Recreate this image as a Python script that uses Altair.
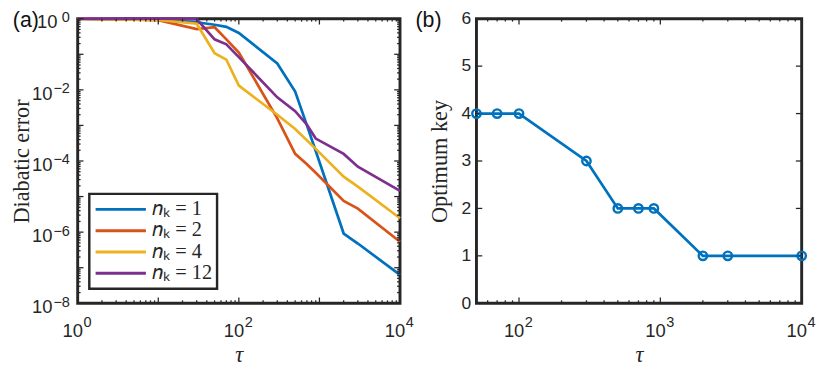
import altair as alt
import pandas as pd
import math

# ---------------- panel (a): diabatic error vs tau ----------------
tau_a = [1, 10, 30, 50, 70, 100, 300, 500, 700, 900, 2000, 3000, 10000]
log10_err_nk1 = [0.0, -0.02, -0.10, -0.17, -0.23, -0.40, -1.26, -2.05, -3.00, -3.72, -6.04, -6.32, -7.20]
log10_err_nk2 = [0.0, -0.04, -0.29, -0.24, -0.58, -0.95, -2.80, -3.80, -4.09, -4.33, -5.12, -5.34, -6.27]
log10_err_nk4 = [0.0, -0.03, -0.14, -0.97, -1.15, -1.88, -2.70, -3.10, -3.42, -3.66, -4.44, -4.72, -5.61]
log10_err_nk12 = [0.0, 0.0, -0.01, -0.58, -0.72, -1.08, -2.21, -2.60, -2.98, -3.37, -3.80, -4.16, -4.84]
series_labels = ["𝑛ₖ = 1", "𝑛ₖ = 2", "𝑛ₖ = 4", "𝑛ₖ = 12"]
series_colors = ["#0072BD", "#D95319", "#EDB120", "#7E2F8E"]

# ---------------- panel (b): optimum key vs tau ----------------
tau_b = [50, 70, 100, 300, 500, 700, 900, 2000, 3000, 10000]
optimum_key = [4, 4, 4, 3, 2, 2, 2, 1, 1, 1]

# tick labels (base 10 with exponent)
xa_label_vals = [1, 100, 10000]
xa_label_exp = ["0", "2", "4"]
ya_label_vals = [1e-8, 1e-6, 1e-4, 1e-2, 1]
ya_label_exp = ["−8", "−6", "−4", "−2", "0"]
xb_label_vals = [100, 1000, 10000]
xb_label_exp = ["2", "3", "4"]
yb_label_vals = [0, 1, 2, 3, 4, 5, 6]

INK = "#262626"
WA, HA = 333, 294
WB, HB = 336, 294
FONT = "Liberation Sans"
BASE_FS, EXP_FS = 19, 15

rows = []
for name, ys in zip(series_labels, [log10_err_nk1, log10_err_nk2, log10_err_nk4, log10_err_nk12]):
    for t, ly in zip(tau_a, ys):
        rows.append({"tau": t, "err": 10 ** ly, "series": name})
df_a = pd.DataFrame(rows)
df_b = pd.DataFrame({"tau": tau_b, "key": optimum_key})

scale_xa = alt.Scale(type="log", domain=[1, 10000], nice=False)
scale_ya = alt.Scale(type="log", domain=[1e-8, 1], nice=False)
scale_xb = alt.Scale(type="log", domain=[50, 10000], nice=False)
scale_yb = alt.Scale(domain=[0, 6], nice=False, zero=False)

axis_xa = alt.Axis(values=xa_label_vals, labels=False, title="τ", titleFontStyle="italic",
                   titleY=53, titleBaseline="middle")
axis_ya = alt.Axis(values=ya_label_vals, labels=False, title="Diabatic error",
                   titleX=-58, titleY=HA / 2, titleAngle=-90,
                   titleAlign="center", titleBaseline="middle")
axis_xb = alt.Axis(values=xb_label_vals, labels=False, title="τ", titleFontStyle="italic",
                   titleY=53, titleBaseline="middle")
axis_yb = alt.Axis(values=yb_label_vals, format="d", title="Optimum key", labelPadding=6,
                   titleX=-38, titleY=HB / 2, titleAngle=-90,
                   titleAlign="center", titleBaseline="middle")


def x_ticks(vals, field, scale, axis, length, H):
    d = pd.DataFrame({field: vals})
    bot = alt.Chart(d).mark_rule(color=INK, strokeWidth=1.3).encode(
        x=alt.X(f"{field}:Q", scale=scale, axis=axis), y=alt.value(H), y2=alt.value(H - length))
    top = alt.Chart(d).mark_rule(color=INK, strokeWidth=1.3).encode(
        x=alt.X(f"{field}:Q", scale=scale, axis=axis), y=alt.value(0), y2=alt.value(length))
    return [bot, top]


def y_ticks(vals, field, scale, axis, length, W):
    d = pd.DataFrame({field: vals})
    lft = alt.Chart(d).mark_rule(color=INK, strokeWidth=1.3).encode(
        y=alt.Y(f"{field}:Q", scale=scale, axis=axis), x=alt.value(0), x2=alt.value(length))
    rgt = alt.Chart(d).mark_rule(color=INK, strokeWidth=1.3).encode(
        y=alt.Y(f"{field}:Q", scale=scale, axis=axis), x=alt.value(W), x2=alt.value(W - length))
    return [lft, rgt]


def x_pow_labels(vals, exps, field, scale, axis, H):
    d = pd.DataFrame({field: vals, "base": ["10"] * len(vals), "exp": exps})
    base = alt.Chart(d).mark_text(align="right", baseline="middle", fontSize=BASE_FS, font=FONT,
                                  color=INK, dx=5.5).encode(
        x=alt.X(f"{field}:Q", scale=scale, axis=axis), y=alt.value(H + 28.5), text="base:N")
    exp = alt.Chart(d).mark_text(align="left", baseline="middle", fontSize=EXP_FS, font=FONT,
                                 color=INK, dx=6).encode(
        x=alt.X(f"{field}:Q", scale=scale, axis=axis), y=alt.value(H + 20), text="exp:N")
    return [base, exp]


def y_pow_labels(vals, exps, field, scale, axis):
    d = pd.DataFrame({field: vals, "base": ["10"] * len(vals), "exp": exps})
    neg = alt.datum.exp != "0"
    zero = alt.datum.exp == "0"
    out = []
    for flt, xb in [(neg, -26), (zero, -21)]:
        out.append(alt.Chart(d).transform_filter(flt).mark_text(
            align="right", baseline="middle", fontSize=BASE_FS, font=FONT, color=INK, dy=4).encode(
            y=alt.Y(f"{field}:Q", scale=scale, axis=axis), x=alt.value(xb), text="base:N"))
    out.append(alt.Chart(d).mark_text(
        align="right", baseline="middle", fontSize=EXP_FS, font=FONT, color=INK, dy=-1.5).encode(
        y=alt.Y(f"{field}:Q", scale=scale, axis=axis), x=alt.value(-8), text="exp:N"))
    return out


xa_major = [1, 10, 100, 1000, 10000]
xa_minor = [k * 10 ** d for d in range(0, 4) for k in range(2, 10)]
ya_major = [10.0 ** (-d) for d in range(0, 9)]
ya_minor = [k * 10.0 ** (-d) for d in range(1, 9) for k in range(2, 10)]
xb_major = [100, 1000, 10000]
xb_minor = [50, 60, 70, 80, 90] + [k * 100 for k in range(2, 10)] + [k * 1000 for k in range(2, 10)]

lines_a = alt.Chart(df_a).mark_line(strokeWidth=2.8).encode(
    x=alt.X("tau:Q", scale=scale_xa, axis=axis_xa),
    y=alt.Y("err:Q", scale=scale_ya, axis=axis_ya),
    color=alt.Color("series:N", sort=series_labels,
                    scale=alt.Scale(domain=series_labels, range=series_colors),
                    legend=alt.Legend(title=None, orient="none", legendX=12, legendY=181,
                                      direction="vertical", fillColor="white", strokeColor=INK,
                                      padding=5, symbolType="stroke", symbolSize=2700,
                                      symbolStrokeWidth=3, labelFont="Liberation Serif",
                                      labelFontSize=21, labelColor=INK, clipHeight=22,
                                      rowPadding=0, labelOffset=5, cornerRadius=0, labelLimit=300)),
)

label_a = alt.Chart(pd.DataFrame({"t": ["(a)"]})).mark_text(
    align="left", baseline="middle", fontSize=22, font=FONT, color="#111111"
).encode(text="t:N", x=alt.value(-67), y=alt.value(2))

panel_a = alt.layer(
    lines_a,
    *x_ticks(xa_major, "tau", scale_xa, axis_xa, 6, HA), *x_ticks(xa_minor, "tau", scale_xa, axis_xa, 3, HA),
    *y_ticks(ya_major, "err", scale_ya, axis_ya, 6, WA), *y_ticks(ya_minor, "err", scale_ya, axis_ya, 3, WA),
    *x_pow_labels(xa_label_vals, xa_label_exp, "tau", scale_xa, axis_xa, HA),
    *y_pow_labels(ya_label_vals, ya_label_exp, "err", scale_ya, axis_ya),
    label_a,
).properties(width=WA, height=HA)

line_b = alt.Chart(df_b).mark_line(strokeWidth=2.8, color="#0072BD").encode(
    x=alt.X("tau:Q", scale=scale_xb, axis=axis_xb),
    y=alt.Y("key:Q", scale=scale_yb, axis=axis_yb),
)
points_b = alt.Chart(df_b).mark_point(shape="circle", filled=False, size=75, strokeWidth=2.5,
                                      color="#0072BD", opacity=1, clip=False).encode(
    x=alt.X("tau:Q", scale=scale_xb, axis=axis_xb), y=alt.Y("key:Q", scale=scale_yb, axis=axis_yb))

label_b = alt.Chart(pd.DataFrame({"t": ["(b)"]})).mark_text(
    align="left", baseline="middle", fontSize=22, font=FONT, color="#111111"
).encode(text="t:N", x=alt.value(-63), y=alt.value(2))

panel_b = alt.layer(
    line_b,
    *x_ticks(xb_major, "tau", scale_xb, axis_xb, 6, HB), *x_ticks(xb_minor, "tau", scale_xb, axis_xb, 3, HB),
    *y_ticks(yb_label_vals, "key", scale_yb, axis_yb, 6, WB),
    *x_pow_labels(xb_label_vals, xb_label_exp, "tau", scale_xb, axis_xb, HB),
    points_b, label_b,
).properties(width=WB, height=HB)

chart = alt.hconcat(panel_a, panel_b, spacing=79, bounds="flush").properties(
    padding={"left": 1, "top": -6, "right": 5, "bottom": 0}
).configure_view(
    stroke=INK, strokeWidth=3
).configure_axis(
    grid=False, domain=False, ticks=False,
    labelFont=FONT, labelFontSize=18, labelColor=INK,
    titleFont="Liberation Serif", titleFontSize=23, titleColor=INK, titleFontWeight="normal",
).configure_legend(
    strokeWidth=2.5
)

chart.save("out.html", embed_options={"renderer": "svg", "actions": False})
